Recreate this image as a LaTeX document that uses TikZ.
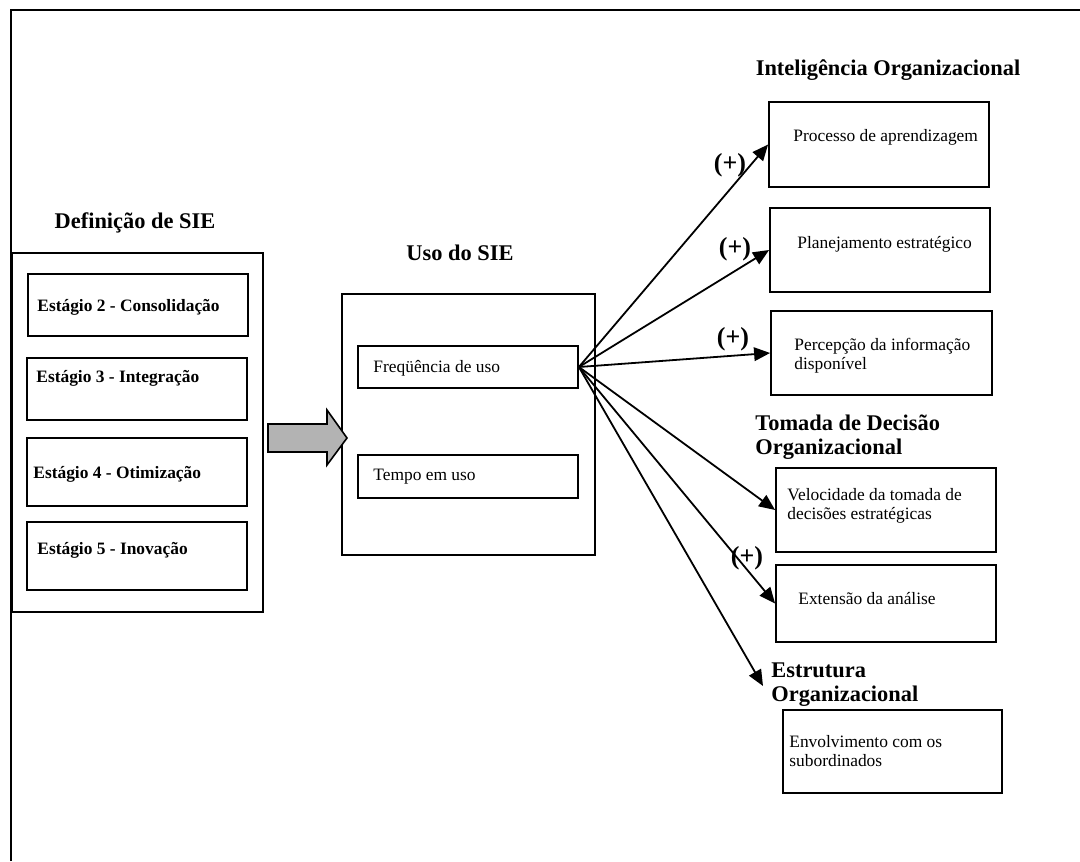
\documentclass[tikz,border=0pt]{standalone}
\usepackage{fontspec}
\setmainfont{Liberation Serif}
\usetikzlibrary{arrows.meta}
\definecolor{arrowgray}{RGB}{179,179,179}
\begin{document}
\begin{tikzpicture}[x=0.5pt,y=-0.5pt,
 box/.style={draw, line width=0.9pt, rectangle, inner sep=0pt},
 txt/.style={inner sep=0pt, anchor=west, align=left, font=\fontsize{8.7}{9.5}\selectfont},
 stg/.style={inner sep=0pt, anchor=west, font=\fontsize{8.7}{9.5}\selectfont\bfseries},
 head/.style={inner sep=0pt, align=left, font=\fontsize{11.2}{12}\selectfont\bfseries},
 plus/.style={inner sep=0pt, font=\fontsize{13}{14}\selectfont\bfseries},
 conn/.style={line width=0.9pt, -{Triangle[length=8pt,width=6.8pt]}},
 blockarrow/.style={draw, line width=0.8pt, fill=arrowgray, line join=miter}
]
\useasboundingbox (0,0) rectangle (1080,861);
% outer frame
\draw[line width=1pt] (11,861) -- (11,10) -- (1080,10);

% Definicao de SIE
\node[head] (defh) at (135,223) {Definição de SIE};
\node[box, minimum width=125.5pt, minimum height=179.5pt] (def) at (137.5,432.5) {};
\node[box, minimum width=110pt, minimum height=31pt] (s2) at (138,305) {};
\node[box, minimum width=110pt, minimum height=31pt] (s3) at (137,389) {};
\node[box, minimum width=110pt, minimum height=34pt] (s4) at (137,472) {};
\node[box, minimum width=110pt, minimum height=34pt] (s5) at (137,556) {};
\node[stg] (s2t) at (37,307) {Estágio 2 - Consolidação};
\node[stg] (s3t) at (36,378) {Estágio 3 - Integração};
\node[stg] (s4t) at (33,474) {Estágio 4 - Otimização};
\node[stg] (s5t) at (37,550) {Estágio 5 - Inovação};

% Uso do SIE
\node[head] (usoh) at (460,253) {Uso do SIE};
\node[box, minimum width=126.5pt, minimum height=130.5pt] (uso) at (468.5,424.5) {};
\node[box, minimum width=110pt, minimum height=21pt] (freq) at (468,367) {};
\node[box, minimum width=110pt, minimum height=21.5pt] (tempo) at (468,476.5) {};
\node[txt] (freqt) at (373,368) {Freqüência de uso};
\node[txt] (tempot) at (373,477) {Tempo em uso};

% block arrow
\draw[blockarrow] (268,424) -- (327,424) -- (327,410) -- (347,438) -- (327,465) -- (327,452) -- (268,452) -- cycle;

% Inteligencia Organizacional
\node[head] (inth) at (888,70) {Inteligência Organizacional};
\node[box, minimum width=110pt, minimum height=42.5pt] (proc) at (879,144.5) {};
\node[box, minimum width=110pt, minimum height=42pt] (plan) at (880,250) {};
\node[box, minimum width=110.5pt, minimum height=42pt] (perc) at (881.5,353) {};
\node[txt] (proct) at (793,137) {Processo de aprendizagem};
\node[txt] (plant) at (797,244) {Planejamento estratégico};
\node[txt] (perct) at (794,356) {Percepção da informação\\disponível};

% Tomada de Decisao
\node[head, anchor=west] (tomh) at (755,437) {Tomada de Decisão\\Organizacional};
\node[box, minimum width=110pt, minimum height=42pt] (velo) at (886,510) {};
\node[box, minimum width=110pt, minimum height=38.5pt] (ext) at (886,603.5) {};
\node[txt] (velot) at (787,506) {Velocidade da tomada de\\decisões estratégicas};
\node[txt] (extt) at (798,599) {Extensão da análise};

% Estrutura
\node[head, anchor=west] (estrh) at (771,685) {Estrutura\\Organizacional};
\coordinate (estrtip) at (763,686);
\node[box, minimum width=109.5pt, minimum height=41.5pt] (env) at (892.5,751.5) {};
\node[txt] (envt) at (789,751.5) {Envolvimento com os\\subordinados};

% connectors
\draw[conn] (freq.east) -- (proc.west);
\draw[conn] (freq.east) -- (plan.west);
\draw[conn] (freq.east) -- (perc.west);
\draw[conn] (freq.east) -- (velo.west);
\draw[conn] (freq.east) -- (ext.west);
\draw[conn] (freq.east) -- (estrtip);

% signs
\node[plus] (p1) at (730,165) {(+)};
\node[plus] (p2) at (735,249) {(+)};
\node[plus] (p3) at (733,339) {(+)};
\node[plus] (p4) at (747,558) {(+)};
\end{tikzpicture}
\end{document}
